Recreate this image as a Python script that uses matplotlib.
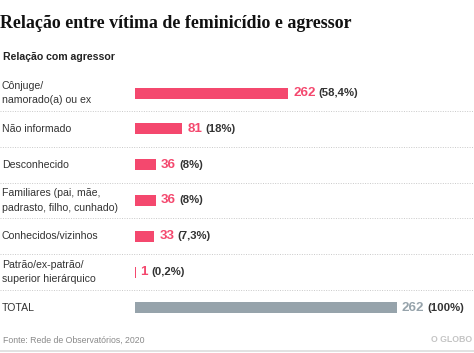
import numpy as np
import matplotlib.pyplot as plt
from matplotlib.transforms import offset_copy

categories = ['Cônjuge/\nnamorado(a) ou ex', 'Não informado', 'Desconhecido',
              'Familiares (pai, mãe,\npadrasto, filho, cunhado)', 'Conhecidos/vizinhos',
              'Patrão/ex-patrão/\nsuperior hierárquico', 'TOTAL']
values = [262, 81, 36, 36, 33, 1, 448]
value_labels = ['262', '81', '36', '36', '33', '1', '262']
pct_labels = ['(58,4%)', '(18%)', '(8%)', '(8%)', '(7,3%)', '(0,2%)', '(100%)']

pink = '#f4486e'
grey = '#96a3ab'
W, H = 474, 353

fig = plt.figure(figsize=(W / 100, H / 100), dpi=100)
ax = fig.add_axes([0, 0, 1, 1])
ax.axis('off')
# bars start at x=135 px, ~0.584 px per unit
ppu = 0.584
ax.set_xlim(-135 / ppu, (W - 135) / ppu)
ax.set_ylim(H, 0)

sans = 'Liberation Sans'
fig.text(0.0, 1 - 23 / H, 'Relação entre vítima de feminicídio e agressor',
         family='Liberation Serif', weight='bold', fontsize=12.9, color='#111111', va='center')
fig.text(3 / W, 1 - 57 / H, 'Relação com agressor', family=sans, weight='bold',
         fontsize=7.6, color='#222222', va='center')

ys = 93 + 35.8 * np.arange(len(categories))
colors = [pink] * (len(categories) - 1) + [grey]
ax.barh(ys, values, height=11, color=colors, left=0)

renderer = fig.canvas.get_renderer()
for y, cat, v, vl, pl, c in zip(ys, categories, values, value_labels, pct_labels, colors):
    ax.text(-133 / ppu, y, cat, family=sans, fontsize=7.6, color='#333333',
            va='center', ha='left', linespacing=1.6)
    t = ax.text(v, y, vl, family=sans, weight='bold', fontsize=9.6, color=c,
                va='center', ha='left',
                transform=offset_copy(ax.transData, fig=fig, x=5, y=0, units='dots'))
    bb = t.get_window_extent(renderer)
    ax.text(bb.x1 + 3, bb.y0 + bb.height / 2, pl, family=sans, weight='bold', fontsize=8.2,
            color='#333333', va='center', ha='left', transform=None)

# dotted separators
for y in (ys[:-1] + ys[1:]) / 2:
    ax.axhline(y, color='#c9c9c9', lw=0.7, ls=(0, (1, 1.5)))

fig.text(3 / W, 1 - 340 / H, 'Fonte: Rede de Observatórios, 2020', family=sans,
         fontsize=6.3, color='#8a8a8a', va='center')
fig.text(1 - 2 / W, 1 - 340 / H, 'O GLOBO', family=sans, weight='bold',
         fontsize=6.3, color='#c4c4c4', va='center', ha='right')
ax.axhline(351, color='#dddddd', lw=1.2)

fig.savefig('out.png', dpi=100)
